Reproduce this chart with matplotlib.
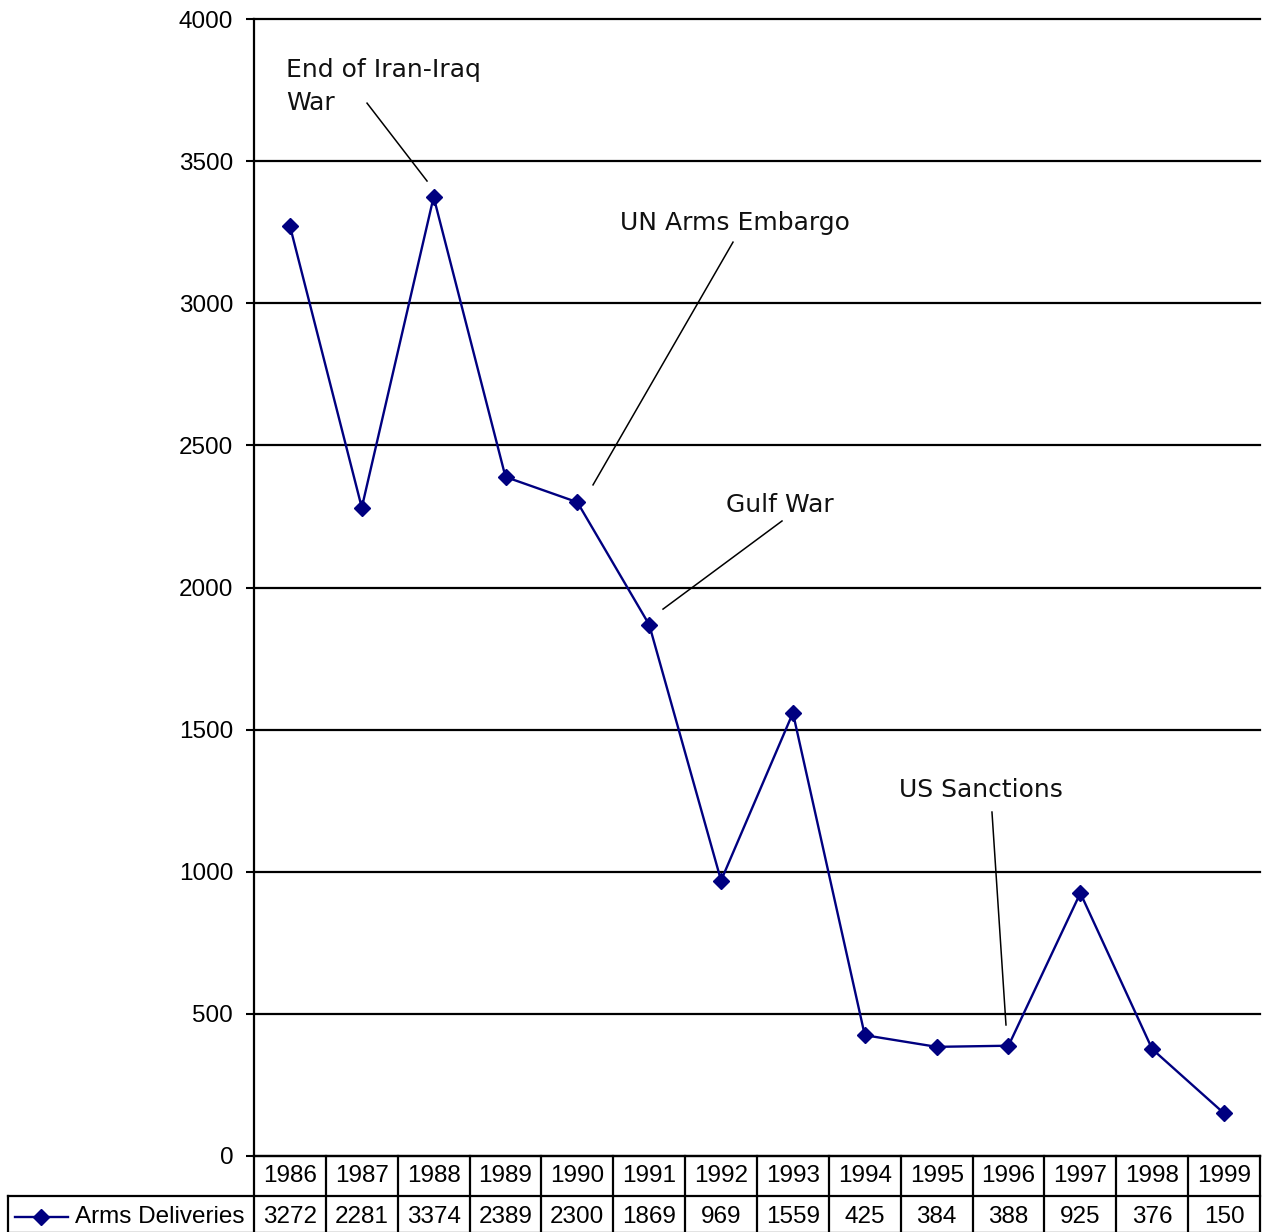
import matplotlib
matplotlib.use('Agg')
from matplotlib import pyplot as plt
import matplotlib.transforms as mtransforms

years = ['1986', '1987', '1988', '1989', '1990', '1991', '1992',
         '1993', '1994', '1995', '1996', '1997', '1998', '1999']
deliveries = [3272, 2281, 3374, 2389, 2300, 1869, 969,
              1559, 425, 384, 388, 925, 376, 150]
series_name = 'Arms Deliveries'
y_ticks = [0, 500, 1000, 1500, 2000, 2500, 3000, 3500, 4000]

navy = '#000080'
tick_font = 'Liberation Sans'
note_font = 'DejaVu Sans'

W, H = 1262, 1232
fig = plt.figure(figsize=(W / 100, H / 100), dpi=100)
# axes box in pixels: x 254..1260, y 19..1156
ax = fig.add_axes([254 / W, (H - 1156) / H, 1006 / W, 1137 / H])

xs = list(range(len(years)))
ax.plot(xs, deliveries, color=navy, lw=1.7, marker='D', markersize=8.5,
        markerfacecolor=navy, markeredgecolor=navy, zorder=3)

ax.set_xlim(-0.5, len(years) - 0.5)
ax.set_ylim(0, 4000)
ax.set_yticks(y_ticks)
ax.set_yticklabels([str(v) for v in y_ticks], fontsize=17.5, fontfamily=tick_font)
ax.tick_params(axis='y', length=6, width=1.5, pad=9, color='black')
ax.set_xticks([])
ax.yaxis.grid(True, color='black', lw=1.6)
ax.set_axisbelow(True)
for gl in ax.get_ygridlines():
    gl.set_clip_on(False)
for s in ['top', 'right']:
    ax.spines[s].set_visible(False)
ax.spines['left'].set_linewidth(1.6)
ax.spines['bottom'].set_linewidth(1.6)

# annotations
note_kw = dict(fontsize=18, fontfamily=note_font, color='#111111')
ax.text(-0.055, 3862, 'End of Iran-Iraq\nWar', va='top', ha='left',
        linespacing=1.45, **note_kw)
ax.plot([1.073, 1.908], [3704, 3430], color='black', lw=1.1)
ax.text(4.593, 3258, 'UN Arms Embargo', va='baseline', ha='left', **note_kw)
ax.plot([6.166, 4.218], [3215, 2361], color='black', lw=1.1)
ax.text(6.069, 2266, 'Gulf War', va='baseline', ha='left', **note_kw)
ax.plot([6.848, 5.192], [2234, 1924], color='black', lw=1.1)
ax.text(8.476, 1263, 'US Sanctions', va='baseline', ha='left', **note_kw)
ax.plot([9.770, 9.965], [1210, 461], color='black', lw=1.1)

# data table below the axis
trans = mtransforms.blended_transform_factory(ax.transData, ax.transAxes)
row1 = -40 / 1137
row2 = -77 / 1137
left_x = (8 - 254) / 71.857 - 0.5
tbl_kw = dict(color='black', lw=1.6, transform=trans, clip_on=False)
for i in range(len(years) + 1):
    ax.plot([i - 0.5, i - 0.5], [0, row2], **tbl_kw)
ax.plot([left_x, len(years) - 0.5], [row1, row1], **tbl_kw)
ax.plot([left_x, len(years) - 0.5], [row2, row2], **tbl_kw)
ax.plot([left_x, left_x], [row1, row2], **tbl_kw)

for i, (yr, v) in enumerate(zip(years, deliveries)):
    ax.text(i, row1 / 2, yr, ha='center', va='center', fontsize=17.5,
            fontfamily=tick_font, transform=trans)
    ax.text(i, (row1 + row2) / 2 - 0.002, str(v), ha='center', va='center',
            fontsize=17.5, fontfamily=tick_font, transform=trans)

# legend key in the table
lx0 = (15 - 254) / 71.857 - 0.5
lx1 = (68 - 254) / 71.857 - 0.5
ly = -61 / 1137
ax.plot([lx0, lx1], [ly, ly], color=navy, lw=1.7, transform=trans, clip_on=False)
ax.plot([(lx0 + lx1) / 2], [ly], color=navy, marker='D', markersize=8.5,
        transform=trans, clip_on=False)
ax.text((75 - 254) / 71.857 - 0.5, ly, series_name, ha='left', va='center',
        fontsize=17.5, fontfamily=tick_font, transform=trans)

fig.savefig('out.png', dpi=100)
